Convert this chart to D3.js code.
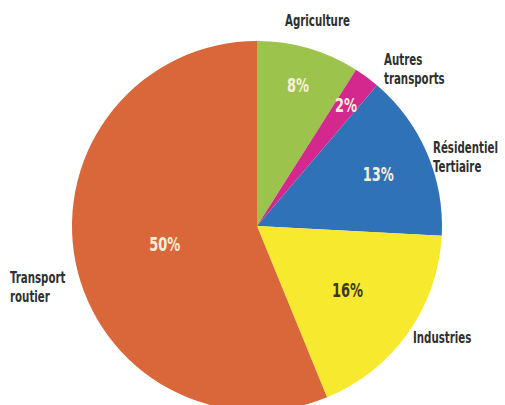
<!DOCTYPE html>
<html>
<head>
<meta charset="utf-8">
<script src="https://cdn.jsdelivr.net/npm/d3@7"></script>
<style>
  html, body { margin: 0; padding: 0; background: #ffffff; }
  svg { display: block; }
  text { font-family: "DejaVu Sans Condensed", "DejaVu Sans", "Roboto", sans-serif; font-weight: bold; }
</style>
</head>
<body>
<svg id="chart" width="505" height="405"></svg>
<script>
// Emission shares by sector (%)
const sectors = ["Agriculture", "Autres transports", "Résidentiel Tertiaire", "Industries", "Transport routier"];
const shares = [8, 2, 13, 16, 50];
const sliceColors = ["#9cc44c", "#d4288e", "#2f72b8", "#f7ea2e", "#d9673a"];

// Sector name lines, as printed beside the pie
const nameLines = [["Agriculture"], ["Autres", "transports"], ["Résidentiel", "Tertiaire"], ["Industries"], ["Transport", "routier"]];

const svg = d3.select("#chart");
const cx = 257, cy = 226, radius = 185;
const squeeze = 0.76; // horizontal compression for a condensed look

const pie = d3.pie().sort(null).value(d => d)(shares);
const arc = d3.arc().innerRadius(0).outerRadius(radius);

const g = svg.append("g").attr("transform", `translate(${cx},${cy})`);

g.selectAll("path.slice")
  .data(pie)
  .join("path")
  .attr("class", "slice")
  .attr("d", arc)
  .attr("fill", (d, i) => sliceColors[i]);

// Percent labels inside the slices
const labelRadius = [147, 150, 132, 111, 94];
const percentFill = ["#f6efd8", "#f6efd8", "#f6efd8", "#3b3626", "#f6efd8"];
g.selectAll("text.pct")
  .data(pie)
  .join("text")
  .attr("class", "pct")
  .attr("transform", (d, i) => {
    const c = d3.arc().innerRadius(labelRadius[i]).outerRadius(labelRadius[i]).centroid(d);
    return `translate(${c[0]},${c[1]}) scale(${squeeze},1)`;
  })
  .attr("text-anchor", "middle")
  .attr("dy", "0.36em")
  .attr("font-size", 19)
  .attr("fill", (d, i) => percentFill[i])
  .text(d => d.value + "%");

// Sector names outside the pie
const namePos = [[285, 26], [384, 65], [433, 153], [413, 343], [10, 283]];
const names = svg.selectAll("text.name")
  .data(nameLines)
  .join("text")
  .attr("class", "name")
  .attr("transform", (d, i) => `translate(${namePos[i][0]},${namePos[i][1]}) scale(${squeeze},1)`)
  .attr("font-size", 15)
  .attr("fill", "#2f2f2f");

names.selectAll("tspan")
  .data(d => d)
  .join("tspan")
  .attr("x", 0)
  .attr("dy", (d, j) => j === 0 ? 0 : 19)
  .text(d => d);
</script>
</body>
</html>
